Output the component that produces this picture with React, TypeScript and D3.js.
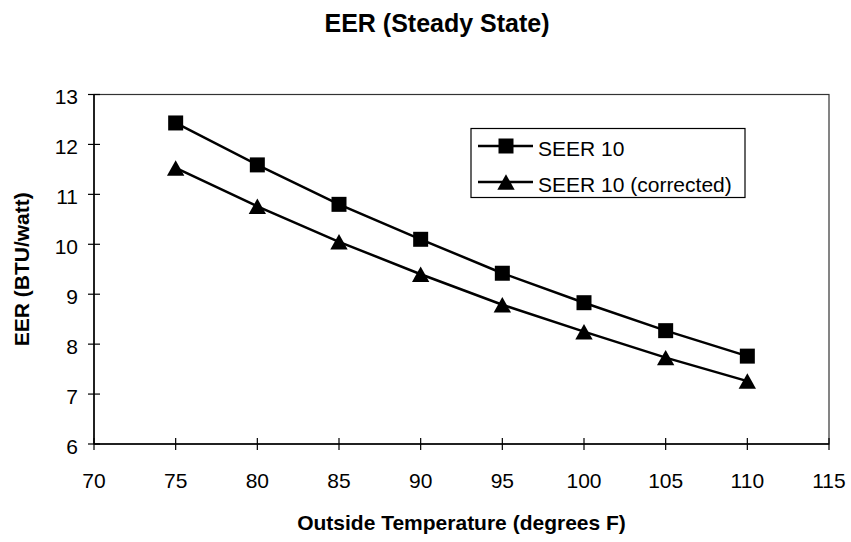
import React, { useEffect, useRef } from 'react';
import * as d3 from 'd3';

const temps = [75, 80, 85, 90, 95, 100, 105, 110];
const seer10 = [12.43, 11.59, 10.8, 10.1, 9.42, 8.83, 8.27, 7.76];
const seer10Corrected = [11.53, 10.76, 10.05, 9.4, 8.79, 8.25, 7.73, 7.26];
const xTicks = [70, 75, 80, 85, 90, 95, 100, 105, 110, 115];
const yTicks = [6, 7, 8, 9, 10, 11, 12, 13];
const seriesNames = ['SEER 10', 'SEER 10 (corrected)'];

const W = 851;
const H = 542;
const FONT = 'Arial, "Liberation Sans", sans-serif';

// Excel-like triangle: centred on its bounding box, not its centroid
const boxTriangle: d3.SymbolType = {
  draw(context, size) {
    const h = Math.sqrt(size);
    const w = h * 0.56;
    context.moveTo(0, -h / 2);
    context.lineTo(w, h / 2);
    context.lineTo(-w, h / 2);
    context.closePath();
  },
};

const App: React.FC = () => {
  const svgRef = useRef<SVGSVGElement>(null);

  useEffect(() => {
    if (!svgRef.current) return;
    const svg = d3.select(svgRef.current);
    svg.selectAll('*').remove();

    // plot area box
    const margin = { top: 94.5, right: W - 829, bottom: H - 444, left: 94 };

    const x = d3.scaleLinear().domain([70, 115]).range([margin.left, W - margin.right]);
    const y = d3.scaleLinear().domain([6, 13]).range([H - margin.bottom, margin.top]);

    svg.append('rect').attr('width', W).attr('height', H).attr('fill', '#fff');

    svg.append('rect')
      .attr('x', x(70)).attr('y', y(13))
      .attr('width', x(115) - x(70)).attr('height', y(6) - y(13))
      .attr('fill', 'none').attr('stroke', '#333').attr('stroke-width', 1.2);

    // axes lines
    svg.append('line')
      .attr('x1', x(70)).attr('x2', x(115)).attr('y1', y(6)).attr('y2', y(6))
      .attr('stroke', '#000').attr('stroke-width', 1.5);
    svg.append('line')
      .attr('x1', x(70)).attr('x2', x(70)).attr('y1', y(6)).attr('y2', y(13))
      .attr('stroke', '#000').attr('stroke-width', 1.5);

    // ticks cross the axis, Excel style
    xTicks.forEach(t => {
      svg.append('line')
        .attr('x1', x(t)).attr('x2', x(t)).attr('y1', y(6) - 6).attr('y2', y(6) + 6)
        .attr('stroke', '#000').attr('stroke-width', 1.2);
      svg.append('text')
        .attr('x', x(t)).attr('y', y(6) + 44)
        .attr('text-anchor', 'middle')
        .attr('font-family', FONT).attr('font-size', 21)
        .text(t);
    });

    yTicks.forEach(t => {
      svg.append('line')
        .attr('x1', x(70) - 6).attr('x2', x(70) + 6).attr('y1', y(t)).attr('y2', y(t))
        .attr('stroke', '#000').attr('stroke-width', 1.2);
      svg.append('text')
        .attr('x', x(70) - 16).attr('y', y(t) + 9.5)
        .attr('text-anchor', 'end')
        .attr('font-family', FONT).attr('font-size', 21)
        .text(t);
    });

    // lines
    const line = d3.line<number>()
      .x((_, i) => x(temps[i]))
      .y(d => y(d));

    [seer10, seer10Corrected].forEach(vals => {
      svg.append('path')
        .datum(vals)
        .attr('d', line)
        .attr('fill', 'none')
        .attr('stroke', '#000')
        .attr('stroke-width', 2.5);
    });

    const square = d3.symbol().type(d3.symbolSquare).size(225);
    const triangle = d3.symbol().type(boxTriangle).size(240);

    seer10.forEach((v, i) => {
      svg.append('path')
        .attr('d', square)
        .attr('transform', `translate(${x(temps[i])},${y(v)})`)
        .attr('fill', '#000');
    });
    seer10Corrected.forEach((v, i) => {
      svg.append('path')
        .attr('d', triangle)
        .attr('transform', `translate(${x(temps[i])},${y(v)})`)
        .attr('fill', '#000');
    });

    // legend
    const lg = svg.append('g').attr('transform', 'translate(471,128.5)');
    lg.append('rect')
      .attr('width', 274).attr('height', 69)
      .attr('fill', '#fff').attr('stroke', '#000').attr('stroke-width', 1.2);
    const symbols = [square, triangle];
    seriesNames.forEach((name, i) => {
      const ly = 17.5 + i * 36;
      lg.append('line')
        .attr('x1', 7).attr('x2', 62).attr('y1', ly).attr('y2', ly)
        .attr('stroke', '#000').attr('stroke-width', 2.5);
      lg.append('path')
        .attr('d', symbols[i])
        .attr('transform', `translate(35,${ly})`)
        .attr('fill', '#000');
      lg.append('text')
        .attr('x', 67).attr('y', ly + 10)
        .attr('font-family', FONT).attr('font-size', 21)
        .text(name);
    });

    // titles
    svg.append('text')
      .attr('x', 437).attr('y', 32)
      .attr('text-anchor', 'middle')
      .attr('font-family', FONT).attr('font-size', 25).attr('font-weight', 'bold')
      .text('EER (Steady State)');

    svg.append('text')
      .attr('x', (x(70) + x(115)) / 2).attr('y', 530)
      .attr('text-anchor', 'middle')
      .attr('font-family', FONT).attr('font-size', 21).attr('font-weight', 'bold')
      .text('Outside Temperature (degrees F)');

    svg.append('text')
      .attr('transform', `translate(29,${(y(6) + y(13)) / 2}) rotate(-90)`)
      .attr('text-anchor', 'middle')
      .attr('font-family', FONT).attr('font-size', 21).attr('font-weight', 'bold')
      .text('EER (BTU/watt)');
  }, []);

  return (
    <svg
      ref={svgRef}
      width={W}
      height={H}
      style={{ position: 'absolute', left: 0, top: 0, display: 'block' }}
    />
  );
};

export default App;
